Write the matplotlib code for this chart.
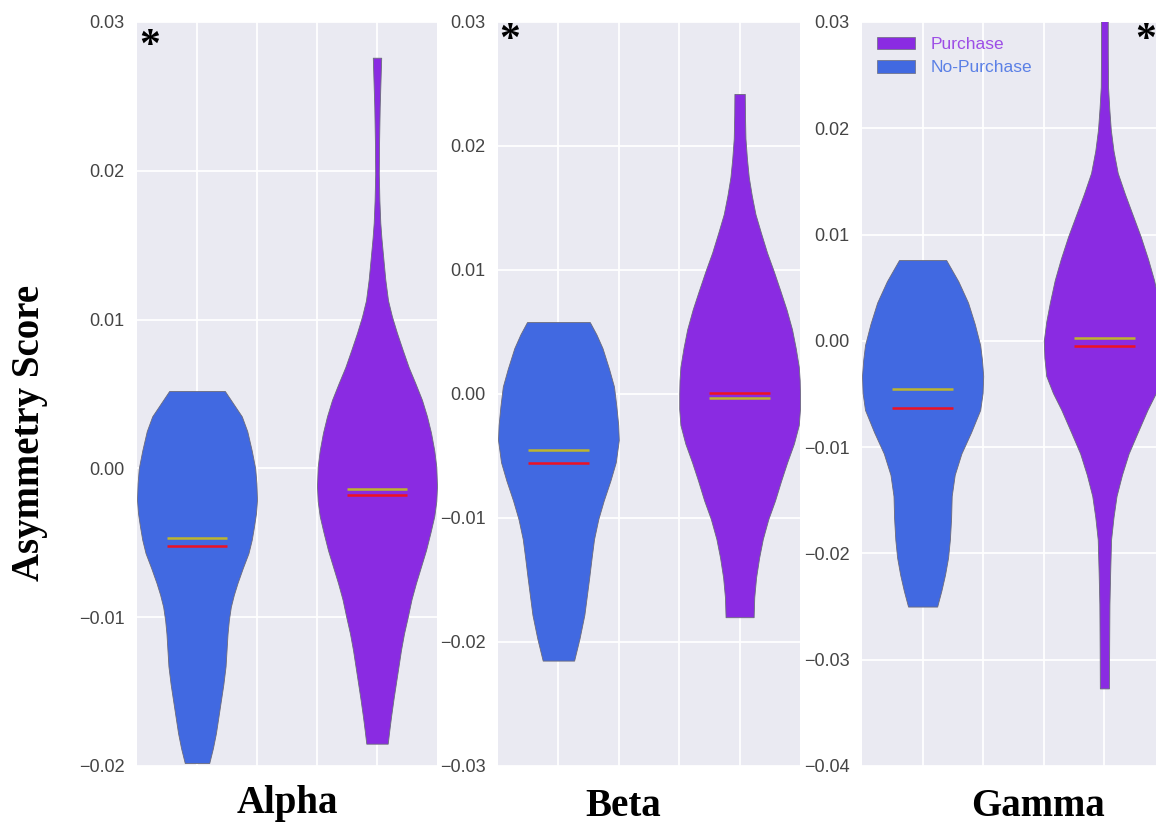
import numpy as np
import matplotlib
matplotlib.use("Agg")
import matplotlib.pyplot as plt
from matplotlib.patches import Patch
from matplotlib.ticker import FuncFormatter

# ---------------- data ----------------
bands = ["Alpha", "Beta", "Gamma"]
groups = ["No-Purchase", "Purchase"]

# violin outlines: score values (bottom -> top) and relative half-widths
alpha_np_y = [-0.0198, -0.0188, -0.0178, -0.0167, -0.0156, -0.0145, -0.0133, -0.0122,
              -0.0111, -0.0102, -0.0093, -0.0085, -0.0077, -0.0067, -0.0057, -0.0048,
              -0.0039, -0.0030, -0.0021, -0.0010, 0.0000, 0.0012, 0.0025, 0.0035,
              0.0042, 0.0052]
alpha_np_w = [12.3, 16, 19, 21.5, 24, 26.5, 28.7, 29.7, 30.7, 32, 34, 37, 40.7, 46,
              51.7, 55, 57.3, 59.3, 60.3, 59.7, 58.5, 55, 50.5, 45, 38, 28]
alpha_np_median, alpha_np_mean = -0.0047, -0.0052

alpha_p_y = [-0.0185, -0.0176, -0.0167, -0.0155, -0.0144, -0.0133, -0.0122, -0.0111,
             -0.0100, -0.0088, -0.0077, -0.0066, -0.0055, -0.0043, -0.0032, -0.0022,
             -0.0012, 0.0001, 0.0012, 0.0024, 0.0035, 0.0046, 0.0057, 0.0068, 0.0080,
             0.0091, 0.0102, 0.0113, 0.0127, 0.0142, 0.0155, 0.0165, 0.0180, 0.0198,
             0.0220, 0.0243, 0.0276]
alpha_p_w = [10.7, 12.3, 14, 16.5, 19, 21.5, 24, 27, 30.7, 34.5, 39, 44, 49, 53.5, 57.3,
             59.3, 60, 59.3, 57.3, 54, 50, 45, 38.5, 31.7, 25.5, 20, 15, 11, 8.3, 6.2,
             4.4, 3.3, 2.4, 1.8, 2.1, 2.7, 4.2]
alpha_p_median, alpha_p_mean = -0.0014, -0.0018

beta_np_y = [-0.0215, -0.0197, -0.0178, -0.0163, -0.0148, -0.0132, -0.0117, -0.0101,
             -0.0086, -0.0070, -0.0055, -0.0037, -0.0025, -0.0010, 0.0006, 0.0020,
             0.0037, 0.0048, 0.0058]
beta_np_w = [0.26, 0.35, 0.43, 0.47, 0.51, 0.55, 0.59, 0.66, 0.75, 0.86, 0.95, 1.0,
             0.99, 0.96, 0.92, 0.84, 0.73, 0.63, 0.52]
beta_np_median, beta_np_mean = -0.0045, -0.0056

beta_p_y = [-0.0180, -0.0164, -0.0148, -0.0132, -0.0117, -0.0101, -0.0086, -0.0070,
            -0.0055, -0.0040, -0.0025, -0.0012, 0.0000, 0.0011, 0.0022, 0.0037, 0.0052,
            0.0068, 0.0083, 0.0099, 0.0114, 0.0130, 0.0145, 0.0160, 0.0175, 0.0190,
            0.0206, 0.0225, 0.0242]
beta_p_w = [0.23, 0.24, 0.27, 0.32, 0.38, 0.47, 0.58, 0.68, 0.78, 0.89, 0.97, 0.99,
            0.99, 0.985, 0.97, 0.92, 0.86, 0.77, 0.67, 0.56, 0.45, 0.35, 0.26, 0.20,
            0.15, 0.12, 0.096, 0.088, 0.085]
beta_p_median, beta_p_mean = -0.0003, 0.0001

gamma_np_y = [-0.0250, -0.0235, -0.0220, -0.0204, -0.0187, -0.0167, -0.0146, -0.0126,
              -0.0106, -0.0086, -0.0065, -0.0049, -0.0033, -0.0018, -0.0004, 0.0016,
              0.0036, 0.0056, 0.0076]
gamma_np_w = [0.24, 0.31, 0.37, 0.42, 0.45, 0.47, 0.48, 0.53, 0.64, 0.80, 0.95, 0.99,
              1.0, 0.98, 0.95, 0.86, 0.75, 0.59, 0.39]
gamma_np_median, gamma_np_mean = -0.0045, -0.0063

gamma_p_y = [-0.0327, -0.0290, -0.0248, -0.0218, -0.0187, -0.0166, -0.0146, -0.0126,
             -0.0106, -0.0086, -0.0065, -0.0049, -0.0033, -0.0016, 0.0000, 0.0018,
             0.0036, 0.0057, 0.0077, 0.0098, 0.0118, 0.0138, 0.0158, 0.0179, 0.0199,
             0.0219, 0.0239, 0.0270, 0.0305]
gamma_p_w = [0.075, 0.078, 0.083, 0.095, 0.11, 0.15, 0.20, 0.29, 0.40, 0.55, 0.71, 0.85,
             0.96, 0.99, 1.0, 0.96, 0.90, 0.82, 0.72, 0.60, 0.47, 0.34, 0.22, 0.15,
             0.105, 0.08, 0.06, 0.056, 0.055]
gamma_p_median, gamma_p_mean = 0.0003, -0.0005

y_limits = [(-0.02, 0.03), (-0.03, 0.03), (-0.04, 0.03)]
y_ticks = [[-0.02, -0.01, 0.00, 0.01, 0.02, 0.03],
           [-0.03, -0.02, -0.01, 0.00, 0.01, 0.02, 0.03],
           [-0.04, -0.03, -0.02, -0.01, 0.00, 0.01, 0.02, 0.03]]

# ---------------- styling ----------------
W, H = 1156, 827
fig = plt.figure(figsize=(W / 100, H / 100), dpi=100)

BLUE = "#4169E1"
PURPLE = "#8A2BE2"
RED = "#EE1122"
YELLOW = "#BDB52E"
BG = "#EAEAF2"

panel_px = [(137, 437), (498, 800), (862, 1165)]
top_px, bot_px = 22, 766

stats_all = [
    [(alpha_np_y, alpha_np_w, alpha_np_median, alpha_np_mean),
     (alpha_p_y, alpha_p_w, alpha_p_median, alpha_p_mean)],
    [(beta_np_y, beta_np_w, beta_np_median, beta_np_mean),
     (beta_p_y, beta_p_w, beta_p_median, beta_p_mean)],
    [(gamma_np_y, gamma_np_w, gamma_np_median, gamma_np_mean),
     (gamma_p_y, gamma_p_w, gamma_p_median, gamma_p_mean)],
]

fmt = FuncFormatter(lambda v, p: f"{round(v, 4):.2f}".replace("-", "\u2212"))

axes = []
for i, (l, r) in enumerate(panel_px):
    ax = fig.add_axes([l / W, (H - bot_px) / H, (r - l) / W, (bot_px - top_px) / H])
    axes.append(ax)
    ax.set_facecolor(BG)
    for s in ax.spines.values():
        s.set_visible(False)
    ax.set_axisbelow(True)
    ax.grid(True, color="white", lw=1.3)

    vpstats = []
    for (yy, ww, med, mn) in stats_all[i]:
        vpstats.append(dict(coords=np.array(yy), vals=np.array(ww, dtype=float),
                            mean=mn, median=med, min=min(yy), max=max(yy)))
    parts = ax.violin(vpstats, positions=[0, 3], widths=2, showmeans=True,
                      showextrema=False, showmedians=True)
    for body, col in zip(parts["bodies"], [BLUE, PURPLE]):
        body.set_facecolor(col)
        body.set_edgecolor("#6a6a7a")
        body.set_linewidth(0.6)
        body.set_alpha(1)
    parts["cmeans"].set_color(RED)
    parts["cmeans"].set_linewidth(1.8)
    parts["cmedians"].set_color(YELLOW)
    parts["cmedians"].set_linewidth(1.8)

    ax.set_xlim(-1, 4)
    ax.set_xticks([0, 1, 2, 3])
    ax.set_xticklabels([])
    ax.set_ylim(*y_limits[i])
    ax.set_yticks(y_ticks[i])
    ax.yaxis.set_major_formatter(fmt)
    ax.tick_params(axis="both", length=0, pad=9, labelsize=13, labelcolor="#444444")
    for t in ax.get_yticklabels():
        t.set_fontfamily("Liberation Sans")

# legend in the Gamma panel
handles = [Patch(facecolor=PURPLE, edgecolor="#6a6a7a", lw=0.5, label="Purchase"),
           Patch(facecolor=BLUE, edgecolor="#6a6a7a", lw=0.5, label="No-Purchase")]
axes[2].legend(handles=handles, loc="upper left", frameon=False,
               prop={"family": "Liberation Sans", "size": 12.5},
               labelcolor=["#9D4EE6", "#5B80E6"], handlelength=2.2,
               handleheight=0.75, handletextpad=0.9, labelspacing=0.45,
               borderpad=0.4, borderaxespad=0.45)

# significance asterisks
for (x, y) in [(150, 47), (510, 41), (1146, 41)]:
    fig.text(x / W, 1 - y / H, "*", ha="center", va="center", fontsize=30,
             fontweight="bold", family="Liberation Serif", color="black")

# axis titles
serif = "Liberation Serif"
fig.text(30 / W, 1 - 433 / H, "Asymmetry Score", rotation=90, ha="center",
         va="center", fontsize=28, fontweight="bold", family=serif)
for name, (x, y) in zip(bands, [(287, 804), (623, 806), (1038, 807)]):
    fig.text(x / W, 1 - y / H, name, ha="center", va="center", fontsize=28,
             fontweight="bold", family=serif)

fig.savefig("out.png", dpi=100)
